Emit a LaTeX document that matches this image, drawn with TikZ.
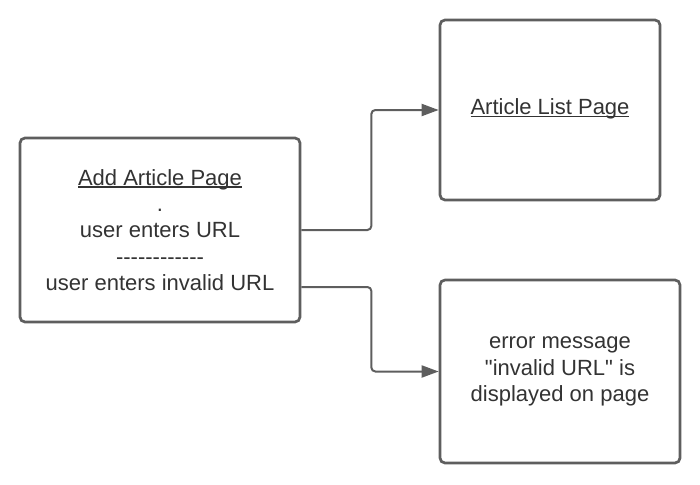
\documentclass[tikz,border=0pt]{standalone}
\usepackage{fontspec}
\setmainfont{Liberation Sans}[Ligatures=TeXOff]
\usepackage{xcolor}
\usetikzlibrary{arrows.meta}
\definecolor{linegray}{HTML}{5E5E5E}
\definecolor{textgray}{HTML}{333333}
\newcommand\pageline[1]{\leavevmode\setbox0\hbox{#1}\rlap{\rule[-2.5pt]{\wd0}{1.2pt}}\box0}
\tikzset{>={Triangle[length=17pt,width=12pt]}}
\tikzset{
  pagebox/.style={draw=linegray, line width=2.7pt, rounded corners=5pt, fill=white,
    inner sep=0pt, align=center, text=textgray,
    font=\fontsize{22}{26.4}\selectfont},
  conn/.style={draw=linegray, line width=2pt, rounded corners=4pt, ->}
}

\begin{document}
\begin{tikzpicture}[x=1pt,y=-1pt]
\useasboundingbox (0,0) rectangle (700,484);
\node[pagebox, minimum width=280pt, minimum height=184pt] (addpage) at (160,230)
  {\pageline{Add Article Page}\\.\\user enters URL\\------------\\user enters invalid URL};
\node[pagebox, minimum width=220pt, minimum height=180pt] (listpage) at (550,110)
  {\raisebox{7pt}{\pageline{Article List Page}}};
\node[pagebox, minimum width=240pt, minimum height=183pt] (errpage) at (560,371.5)
  {error message\\"invalid URL" is\\displayed on page};
\draw[conn] (addpage.east) -- ++(70,0) |- (listpage.west);
\draw[conn] ([yshift=-57pt]addpage.east) -- ++(70,0) |- (errpage.west);
\end{tikzpicture}
\end{document}
